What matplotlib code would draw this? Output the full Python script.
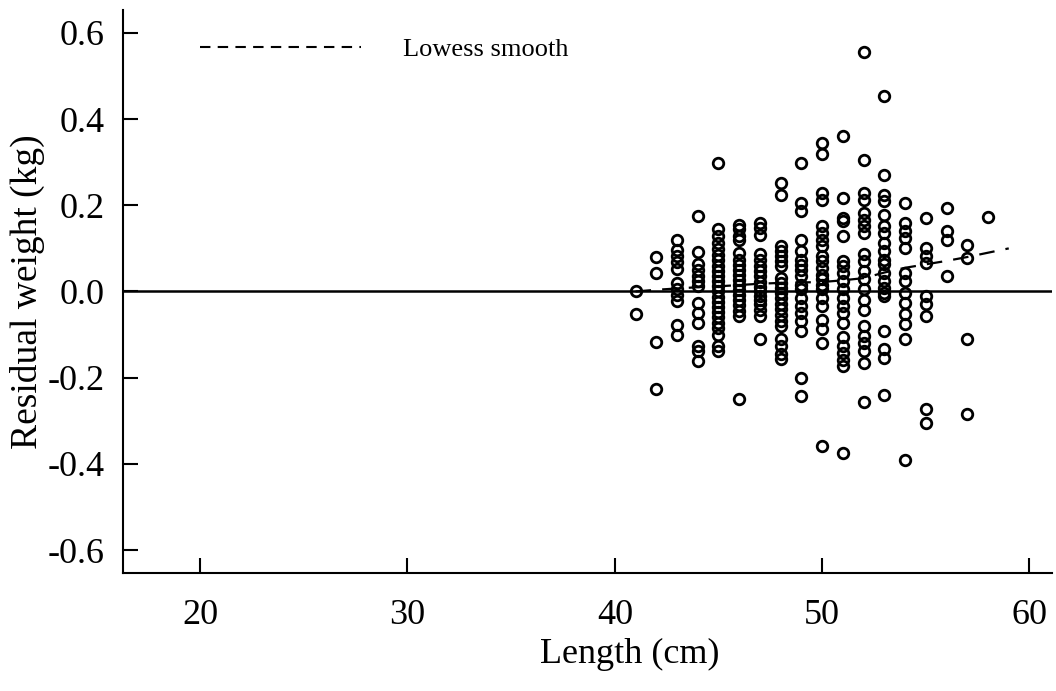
import matplotlib
matplotlib.use("Agg")
import matplotlib.pyplot as plt
from matplotlib.lines import Line2D

plt.rcParams['font.family'] = ['Liberation Serif', 'DejaVu Serif']

# Residuals by length class (cm)
res = {
    41: [0.0, -0.053],
    42: [0.081, 0.044, -0.118, -0.227],
    43: [0.119, 0.097, 0.083, 0.068, 0.053, 0.019, 0.005, -0.009, -0.022, -0.077, -0.1],
    44: [0.174, 0.091, 0.063, 0.051, 0.037, 0.024, 0.012, -0.026, -0.049, -0.072, -0.127, -0.138, -0.161],
    45: [0.299, 0.144, 0.128, 0.112, 0.098, 0.085, 0.072, 0.06, 0.048, 0.036, 0.024, 0.012, 0.0,
         -0.012, -0.024, -0.036, -0.048, -0.06, -0.072, -0.085, -0.1, -0.127, -0.138],
    46: [0.155, 0.144, 0.128, 0.12, 0.09, 0.074, 0.062, 0.05, 0.038, 0.026, 0.014, 0.003, -0.008,
         -0.02, -0.032, -0.045, -0.057, -0.25],
    47: [0.16, 0.148, 0.132, 0.086, 0.074, 0.059, 0.047, 0.035, 0.021, 0.01, 0.0, -0.01, -0.02,
         -0.03, -0.042, -0.057, -0.111],
    48: [0.252, 0.225, 0.105, 0.093, 0.082, 0.07, 0.059, 0.032, 0.02, 0.008, -0.004, -0.016, -0.028,
         -0.04, -0.055, -0.068, -0.08, -0.111, -0.127, -0.145, -0.157],
    49: [0.299, 0.206, 0.186, 0.12, 0.093, 0.074, 0.062, 0.051, 0.035, 0.016, 0.005, -0.014, -0.034,
         -0.049, -0.069, -0.092, -0.2, -0.243],
    50: [0.345, 0.318, 0.229, 0.213, 0.151, 0.136, 0.12, 0.105, 0.082, 0.07, 0.055, 0.039, 0.028,
         0.016, 0.005, -0.014, -0.034, -0.065, -0.088, -0.119, -0.358],
    51: [0.36, 0.217, 0.171, 0.163, 0.128, 0.07, 0.059, 0.043, 0.024, 0.005, -0.015, -0.034, -0.049,
         -0.073, -0.105, -0.127, -0.142, -0.158, -0.173, -0.374],
    52: [0.556, 0.306, 0.229, 0.213, 0.182, 0.167, 0.151, 0.136, 0.086, 0.07, 0.047, 0.03, 0.005,
         -0.019, -0.042, -0.08, -0.104, -0.12, -0.138, -0.165, -0.257],
    53: [0.453, 0.271, 0.225, 0.209, 0.178, 0.151, 0.136, 0.113, 0.093, 0.074, 0.063, 0.043, 0.024,
         0.009, -0.003, -0.011, -0.092, -0.134, -0.154, -0.239],
    54: [0.206, 0.159, 0.14, 0.124, 0.101, 0.043, 0.024, -0.003, -0.026, -0.053, -0.076, -0.111, -0.39],
    55: [0.171, 0.101, 0.082, 0.066, -0.011, -0.03, -0.057, -0.273, -0.304],
    56: [0.194, 0.14, 0.12, 0.035],
    57: [0.109, 0.078, -0.111, -0.285],
    58: [0.173],
}
lengths = [L for L, vals in res.items() for _ in vals]
residuals = [v for vals in res.values() for v in vals]

lowess_x = [41, 42, 43, 44, 45, 46, 47, 48, 49, 50, 51, 52, 53, 54, 55, 56, 57, 58, 59]
lowess_y = [0.0, 0.004, 0.007, 0.01, 0.012, 0.015, 0.018, 0.02, 0.021, 0.022, 0.026, 0.031,
            0.044, 0.055, 0.063, 0.071, 0.08, 0.09, 0.1]

xticks = [20, 30, 40, 50, 60]
yticks = [-0.6, -0.4, -0.2, 0.0, 0.2, 0.4, 0.6]
ytick_labels = ['-0.6', '-0.4', '-0.2', '0.0', '0.2', '0.4', '0.6']

fig = plt.figure(figsize=(10.56, 6.91), dpi=100)
ax = fig.add_axes([0.1165, 0.1708, 0.88, 0.8147])

ax.axhline(0, color='black', lw=1.8, zorder=1)
ax.plot(lengths, residuals, linestyle='none', marker='o', markersize=7.6,
        markerfacecolor='none', markeredgecolor='black', markeredgewidth=2.0, zorder=3)
ax.plot(lowess_x, lowess_y, color='black', lw=1.6, linestyle=(0, (7, 5)), zorder=2)

ax.set_xlim(16.28, 61.1)
ax.set_ylim(-0.653, 0.653)
ax.set_xticks(xticks)
ax.set_yticks(yticks)
ax.set_yticklabels(ytick_labels)
ax.tick_params(direction='in', length=11, width=1.5, labelsize=26, colors='black')
ax.tick_params(axis='x', pad=19)
ax.tick_params(axis='y', pad=13)
for s in ['top', 'right']:
    ax.spines[s].set_visible(False)
for s in ['left', 'bottom']:
    ax.spines[s].set_linewidth(1.5)

ax.set_xlabel('Length (cm)', fontsize=26, labelpad=4, x=0.545)
ax.set_ylabel('Residual weight (kg)', fontsize=27, labelpad=2)

handle = Line2D([], [], color='black', lw=1.5, linestyle=(0, (5, 3.5)))
fig.legend([handle], ['Lowess smooth'], loc='center left',
           bbox_to_anchor=(0.189, 0.929), frameon=False, fontsize=19,
           handlelength=6.1, handletextpad=1.6, borderpad=0, borderaxespad=0)

fig.savefig('out.png', dpi=100, facecolor='white')
